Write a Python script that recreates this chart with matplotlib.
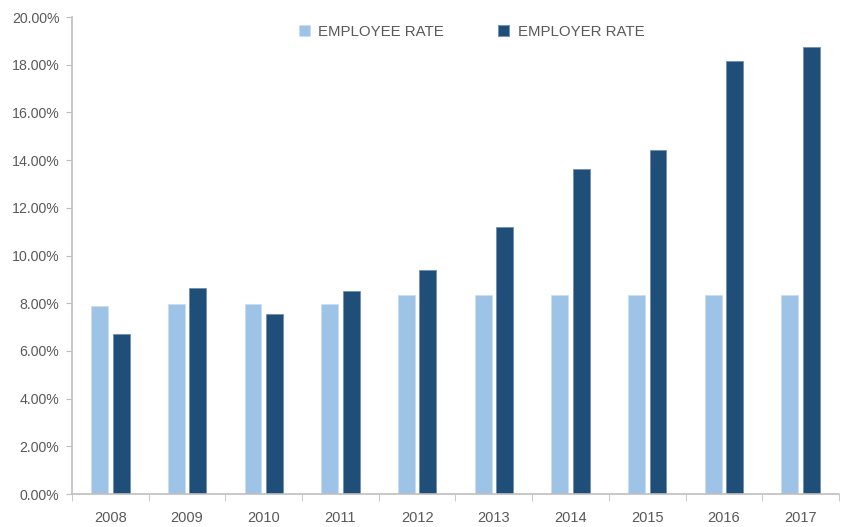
import matplotlib
matplotlib.use("Agg")
import matplotlib.pyplot as plt
import numpy as np
from matplotlib.ticker import FuncFormatter, FixedLocator

plt.rcParams['font.family'] = ['Liberation Sans', 'DejaVu Sans']

years = ['2008', '2009', '2010', '2011', '2012', '2013', '2014', '2015', '2016', '2017']
employee_rate = [7.90, 7.97, 7.97, 7.97, 8.33, 8.33, 8.33, 8.33, 8.33, 8.33]
employer_rate = [6.72, 8.64, 7.53, 8.50, 9.40, 11.21, 13.61, 14.42, 18.17, 18.73]

light = '#9dc3e6'
dark = '#1f4e79'
grey = '#595959'
axis_col = '#bfbfbf'

fig = plt.figure(figsize=(8.51, 5.27), dpi=100)
ax = fig.add_axes([0.0846, 0.0626, 0.9013, 0.905])

x = np.arange(len(years))
w = 0.22
ax.bar(x - 0.14, employee_rate, w, color=light, edgecolor='#c9def0', linewidth=0.6, label='EMPLOYEE RATE')
ax.bar(x + 0.14, employer_rate, w, color=dark, edgecolor='#6f8fb0', linewidth=0.6, label='EMPLOYER RATE')

ax.set_xlim(-0.5, len(years) - 0.5)
ax.set_ylim(0, 20)
ax.set_yticks(np.arange(0, 20.1, 2))
ax.yaxis.set_major_formatter(FuncFormatter(lambda v, p: f'{v:.2f}%'))
ax.set_xticks(x)
ax.set_xticklabels(years)
ax.xaxis.set_minor_locator(FixedLocator(np.arange(-0.5, len(years), 1)))
ax.tick_params(axis='x', which='major', length=0, pad=12, labelsize=10.5, labelcolor=grey)
ax.tick_params(axis='x', which='minor', length=5, color=axis_col, direction='out')
ax.tick_params(axis='y', length=4, color=axis_col, labelsize=10.2, labelcolor=grey, pad=5)

for s in ['top', 'right']:
    ax.spines[s].set_visible(False)
for s in ['left', 'bottom']:
    ax.spines[s].set_color(axis_col)
    ax.spines[s].set_linewidth(1.2)

leg = fig.legend(loc='center', bbox_to_anchor=(0.554, 0.939), ncol=2, frameon=False,
                 fontsize=10.8, handlelength=0.75, handleheight=0.75, handletextpad=0.55,
                 columnspacing=3.6)
for t in leg.get_texts():
    t.set_color(grey)

fig.savefig('out.png', dpi=100)
